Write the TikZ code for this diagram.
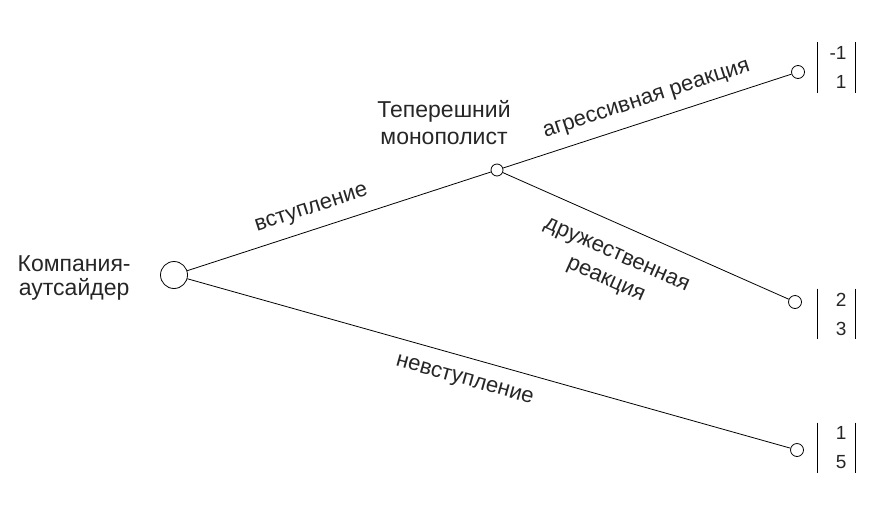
\documentclass[tikz,border=0pt]{standalone}
\usepackage{fontspec}
\setmainfont{Liberation Sans}
\usetikzlibrary{calc}
\tikzstyle{decision}=[circle,draw=black,fill=white,inner sep=0pt,line width=0.8pt]
\tikzstyle{player}=[font=\fontsize{23}{27}\selectfont,align=center,text=black!85,inner sep=0pt]
\tikzstyle{move}=[font=\fontsize{22}{27}\selectfont,sloped,text=black!85,align=center,inner sep=2pt]
\tikzstyle{payoff}=[font=\fontsize{19}{29}\selectfont,align=right,text=black!85,
                    text width=20pt,minimum height=50pt,inner xsep=8.5pt,inner ysep=0pt]
\newcommand\payoffpair[2]{#1\\#2}

\begin{document}
\begin{tikzpicture}[x=1pt,y=-1pt,line width=0.8pt]
	\useasboundingbox (0,0) rectangle (888,512);
	% players
	\node [decision,minimum size=27pt] (root) at (174,275) {};
	\node [decision,minimum size=12pt] (mono) at (497,170) {};
	\node [player,anchor=east,font=\fontsize{23}{23.5}\selectfont] (outsider) at (131,278) {Компания-\\аутсайдер};
	\node [player] (incumbent) at (444,123) {Теперешний\\монополист};
	% terminal nodes
	\node [decision,minimum size=13pt] (leafA) at (798,72) {};
	\node [decision,minimum size=13pt] (leafB) at (795,302) {};
	\node [decision,minimum size=13pt] (leafC) at (797,450) {};
	% payoffs
	\node [payoff] (payA) at (836.5,67.5) {\payoffpair{-1}{1}};
	\node [payoff] (payB) at (836.5,314) {\payoffpair{2}{3}};
	\node [payoff] (payC) at (836.5,448) {\payoffpair{1}{5}};
	\foreach \p in {payA,payB,payC} {
		\draw (\p.north west) -- (\p.south west);
		\draw (\p.north east) -- (\p.south east);
	}
	% moves
	\draw (root) -- node [move,pos=0.43,above=9pt] {вступление} (mono);
	\draw (mono) -- node [move,pos=0.52,above=9pt] {агрессивная реакция} (leafA);
	\draw (mono) -- node [move,pos=0.44,below=20pt] {дружественная\\реакция} (leafB);
	\draw (root) -- node [move,pos=0.47,below=13pt] {невступление} (leafC);
\end{tikzpicture}
\end{document}
